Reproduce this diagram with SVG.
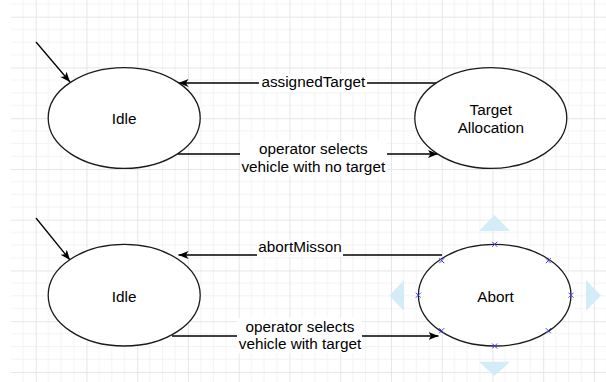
<svg xmlns="http://www.w3.org/2000/svg" width="606" height="382" viewBox="0 0 606 382">
  <style>
    .node ellipse { fill: #ffffff; stroke: #1a1a1a; stroke-width: 1.3; }
    .lbl { font-family: "Liberation Sans", Arial, sans-serif; font-size: 15.3px; fill: #000; text-anchor: middle; }
    .edge { fill: none; stroke: #000; stroke-width: 1.3; }
    .mk { stroke: #3d3dff; stroke-width: 1; fill: none; }
    .handle { fill: #d3ecf8; }
  </style>
  <defs>
    <pattern id="grid" patternUnits="userSpaceOnUse" x="35.7" y="16.7" width="50.75" height="50.75">
      <path d="M12.69 0V50.75M25.38 0V50.75M38.06 0V50.75M0 12.69H50.75M0 25.38H50.75M0 38.06H50.75" stroke="#f3f3f3" stroke-width="1" fill="none"/>
      <path d="M0.5 0V50.75M0 0.5H50.75" stroke="#e6e6e6" stroke-width="1" fill="none"/>
    </pattern>
    <marker id="arrow" markerUnits="userSpaceOnUse" markerWidth="12" markerHeight="10" refX="10" refY="4" orient="auto">
      <path d="M0,0 L10,4 L0,8 L2.5,4 Z" fill="#000"/>
    </marker>
  </defs>

  <rect x="0" y="0" width="606" height="382" fill="#ffffff"/>
  <rect x="11" y="0" width="595" height="382" fill="url(#grid)"/>

  <g id="connectors">
    <line class="edge" x1="36" y1="42" x2="70" y2="82" marker-end="url(#arrow)"/>
    <line class="edge" x1="36" y1="218" x2="70" y2="260" marker-end="url(#arrow)"/>
    <line class="edge" x1="436.7" y1="83" x2="178.5" y2="83" marker-end="url(#arrow)"/>
    <line class="edge" x1="177.5" y1="154" x2="438" y2="154" marker-end="url(#arrow)"/>
    <line class="edge" x1="442" y1="255" x2="178.5" y2="255" marker-end="url(#arrow)"/>
    <line class="edge" x1="172" y1="336" x2="438.5" y2="336" marker-end="url(#arrow)"/>

    <g id="label-assignedTarget">
      <rect x="259" y="74" width="108" height="18" fill="#ffffff"/>
      <text class="lbl" x="313.3" y="87.3">assignedTarget</text>
    </g>
    <g id="label-op1">
      <rect x="240" y="141" width="147" height="35" fill="#ffffff"/>
      <text class="lbl" x="313.3" y="154.3">operator selects</text>
      <text class="lbl" x="313.3" y="172">vehicle with no target</text>
    </g>
    <g id="label-abortMisson">
      <rect x="257" y="240" width="86" height="17" fill="#ffffff"/>
      <text class="lbl" x="300" y="251.7">abortMisson</text>
    </g>
    <g id="label-op2">
      <rect x="237" y="318" width="125" height="35" fill="#ffffff"/>
      <text class="lbl" x="300" y="331.5">operator selects</text>
      <text class="lbl" x="300" y="349.2">vehicle with target</text>
    </g>
  </g>

  <g id="idle1" class="node">
    <ellipse cx="124.2" cy="118" rx="76" ry="50.4"/>
    <text class="lbl" x="124.2" y="123.5">Idle</text>
  </g>
  <g id="target-allocation" class="node">
    <ellipse cx="490.8" cy="118" rx="76" ry="50.4"/>
    <text class="lbl" x="490.8" y="115">Target</text>
    <text class="lbl" x="490.8" y="132.7">Allocation</text>
  </g>
  <g id="idle2" class="node">
    <ellipse cx="124.2" cy="295.2" rx="76" ry="50.8"/>
    <text class="lbl" x="124.2" y="301.6">Idle</text>
  </g>
  <g id="abort" class="node">
    <ellipse cx="494.7" cy="295.2" rx="76.3" ry="50.8"/>
    <text class="lbl" x="495.5" y="301.6">Abort</text>
  </g>

  <g id="selection">
    <polygon class="handle" points="494.5,215 510,231 479,231"/>
    <polygon class="handle" points="479,361.7 510,361.7 494.5,376"/>
    <polygon class="handle" points="586,280 586,311 601,295.5"/>
    <polygon class="handle" points="404,280 404,311 389.3,295.5"/>
    <path class="mk" d="M492.2 241.8l5 5m0 -5l-5 5M545.8 258.2l5 5m0 -5l-5 5M568.5 292.7l5 5m0 -5l-5 5M545.8 328.2l5 5m0 -5l-5 5M492.2 343.5l5 5m0 -5l-5 5M439.2 328.2l5 5m0 -5l-5 5M415.8 292.7l5 5m0 -5l-5 5M439.2 258.2l5 5m0 -5l-5 5"/>
  </g>
</svg>
